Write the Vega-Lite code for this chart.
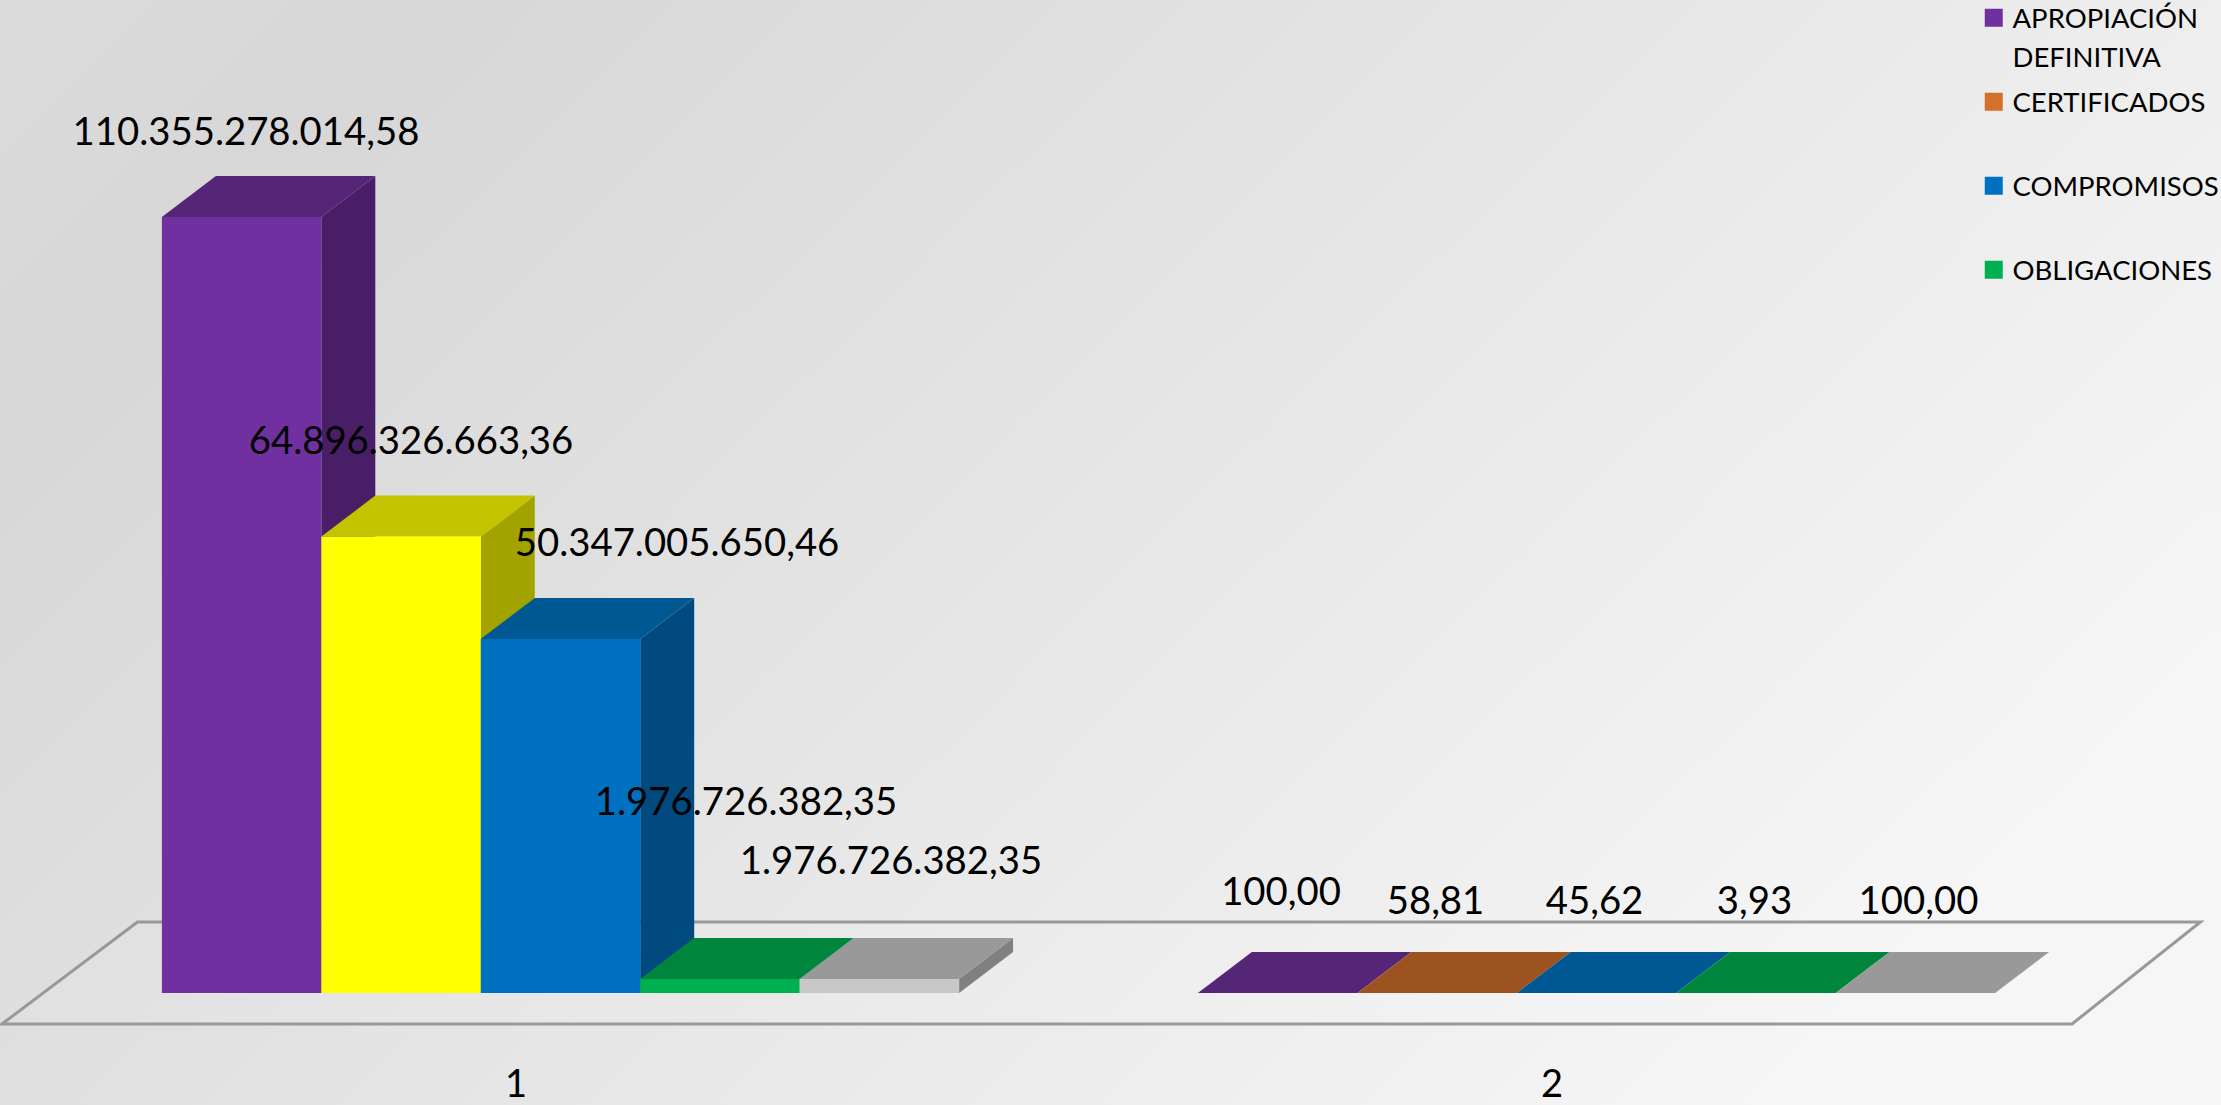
{
"$schema":"https://vega.github.io/schema/vega-lite/v6.json",
"width":2221,"height":1105,"autosize":"none","padding":0,
"config":{"locale":{"number":{"decimal":",","thousands":".","grouping":[3],"currency":["$",""]}},
"view":{"stroke":null,"fill":{"gradient":"linear","x1":0,"y1":0.08,"x2":1,"y2":0.58,"stops":[{"offset":0,"color":"#dbdbdb"},{"offset":0.12,"color":"#d7d7d7"},{"offset":1,"color":"#f6f6f6"}]}},
"font":"Lato"},
"datasets":{"bars":[
{"group":1,"series":"APROPIACIÓN DEFINITIVA","value":110355278014.58},
{"group":1,"series":"CERTIFICADOS","value":64896326663.36},
{"group":1,"series":"COMPROMISOS","value":50347005650.46},
{"group":1,"series":"OBLIGACIONES","value":1976726382.35},
{"group":1,"series":"Serie 5","value":1976726382.35},
{"group":2,"series":"APROPIACIÓN DEFINITIVA","value":100},
{"group":2,"series":"CERTIFICADOS","value":58.81},
{"group":2,"series":"COMPROMISOS","value":45.62},
{"group":2,"series":"OBLIGACIONES","value":3.93},
{"group":2,"series":"Serie 5","value":100}
]},
"data":{"name":"bars"},
"transform":[
{"calculate":"indexof(['APROPIACIÓN DEFINITIVA','CERTIFICADOS','COMPROMISOS','OBLIGACIONES','Serie 5'],datum.series)","as":"idx"},
{"calculate":"datum.group+(datum.idx-2.5)*0.1539","as":"left"},
{"calculate":"datum.left+0.1539","as":"right"},
{"calculate":"datum.group+'-'+datum.idx","as":"bar"},
{"calculate":"datum.group==1&&datum.idx==1?'#c3c300':['#552577','#9c5320','#005892','#00863c','#999999'][datum.idx]","as":"topColor"},
{"calculate":"datum.group==1&&datum.idx==1?'#a3a300':['#481f66','#854619','#004a80','#00713a','#808080'][datum.idx]","as":"sideColor"},
{"calculate":"[0.6964,0.8557,1.1125,1.1791,1.3190,1.6955,1.8446,1.9981,2.1525,2.3108][datum.idx+5*(datum.group-1)]","as":"labelU"},
{"calculate":"[122.73e9,78.78e9,64.25e9,27.45e9,19.1e9,14.65e9,13.43e9,13.43e9,13.43e9,13.43e9][datum.idx+5*(datum.group-1)]","as":"labelV"}
],
"layer":[
{"data":{"values":[{"edge":"back","v":10.097e9,"from":0.5917,"to":2.5830},{"edge":"front","v":-4.409e9,"from":0.4609,"to":2.4590}]},
 "transform":[],
 "mark":{"type":"area","orient":"horizontal","fill":"#ffffff","fillOpacity":0.08,"stroke":"#999999","strokeWidth":3},
 "encoding":{
  "y":{"field":"v","type":"quantitative","scale":{"domain":[-15.93e9,141.2e9]},"axis":null},
  "x":{"field":"from","type":"quantitative","scale":{"domain":[0.45898,2.6028]},
    "axis":{"values":[1,2],"format":"d","domain":false,"ticks":false,"grid":false,"labelFontSize":38,"labelColor":"#000000","labelPadding":-39,"labelOffset":-45,"labelFlush":false,"title":null}},
  "x2":{"field":"to"}}},
{"transform":[{"calculate":"[0,1]","as":"d"},{"flatten":["d"]},{"calculate":"datum.right+datum.d*0.0521","as":"sx"},{"calculate":"datum.value+datum.d*5.83e9","as":"sTop"},{"calculate":"datum.d*5.83e9","as":"sBot"}],
 "mark":{"type":"area"},
 "encoding":{
  "x":{"field":"sx","type":"quantitative","scale":{"domain":[0.45898,2.6028]},
    "axis":{"values":[1,2],"format":"d","domain":false,"ticks":false,"grid":false,"labelFontSize":38,"labelColor":"#000000","labelPadding":-39,"labelOffset":-45,"labelFlush":false,"title":null}},
  "y":{"field":"sTop","type":"quantitative","scale":{"domain":[-15.93e9,141.2e9]},"axis":null},
  "y2":{"field":"sBot"},
  "detail":{"field":"bar"},
  "fill":{"field":"sideColor","type":"nominal","scale":null}}},
{"transform":[{"calculate":"[0,1]","as":"d"},{"flatten":["d"]},{"calculate":"datum.left+datum.d*0.0521","as":"tx"},{"calculate":"datum.right+datum.d*0.0521","as":"tx2"},{"calculate":"datum.value+datum.d*5.83e9","as":"ty"}],
 "mark":{"type":"area","orient":"horizontal"},
 "encoding":{
  "y":{"field":"ty","type":"quantitative","scale":{"domain":[-15.93e9,141.2e9]},"axis":null},
  "x":{"field":"tx","type":"quantitative","scale":{"domain":[0.45898,2.6028]},
    "axis":{"values":[1,2],"format":"d","domain":false,"ticks":false,"grid":false,"labelFontSize":38,"labelColor":"#000000","labelPadding":-39,"labelOffset":-45,"labelFlush":false,"title":null}},
  "x2":{"field":"tx2"},
  "detail":{"field":"bar"},
  "fill":{"field":"topColor","type":"nominal","scale":null}}},
{"mark":{"type":"rect"},
 "encoding":{
  "x":{"field":"left","type":"quantitative","scale":{"domain":[0.45898,2.6028]},
    "axis":{"values":[1,2],"format":"d","domain":false,"ticks":false,"grid":false,"labelFontSize":38,"labelColor":"#000000","labelPadding":-39,"labelOffset":-45,"labelFlush":false,"title":null}},
  "x2":{"field":"right"},
  "y":{"field":"value","type":"quantitative","scale":{"domain":[-15.93e9,141.2e9]},"axis":null},
  "y2":{"datum":0},
  "fill":{"condition":[{"test":"datum.group==1&&datum.idx==1","value":"#ffff00"},{"test":"datum.idx==4","value":"#c8c8c8"}],
    "field":"series","type":"nominal",
    "scale":{"domain":["APROPIACIÓN DEFINITIVA","CERTIFICADOS","COMPROMISOS","OBLIGACIONES"],"range":["#7030a0","#d2702c","#0070c0","#00b050"]},
    "legend":{"title":null,"orient":"none","legendX":1980,"legendY":4,"padding":0,"symbolType":"square","symbolSize":324,"symbolStrokeWidth":0,"symbolOpacity":1,"labelFontSize":27.5,"labelColor":"#000000","labelLimit":0,"labelOffset":5,"labelBaseline":"top","gridAlign":"all","rowPadding":15,
      "labelExpr":"datum.label=='APROPIACIÓN DEFINITIVA'?['APROPIACIÓN','DEFINITIVA']:datum.label",
      "encoding":{"labels":{"lineHeight":{"value":39},"dy":{"value":-12}}}}}}},
{"mark":{"type":"text","fontSize":38.3,"color":"#000000","align":"center","baseline":"middle","dy":4},
 "encoding":{
  "x":{"field":"labelU","type":"quantitative","scale":{"domain":[0.45898,2.6028]},
    "axis":{"values":[1,2],"format":"d","domain":false,"ticks":false,"grid":false,"labelFontSize":38,"labelColor":"#000000","labelPadding":-39,"labelOffset":-45,"labelFlush":false,"title":null}},
  "y":{"field":"labelV","type":"quantitative","scale":{"domain":[-15.93e9,141.2e9]},"axis":null},
  "text":{"field":"value","type":"quantitative","format":",.2f"}}}
]
}
